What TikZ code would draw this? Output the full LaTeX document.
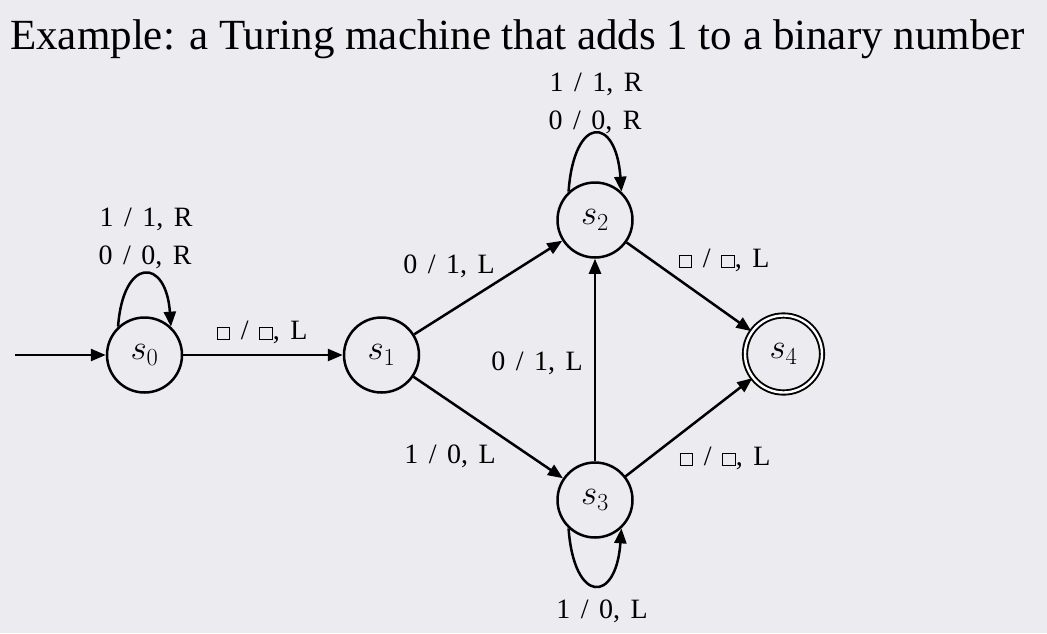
\RequirePackage{fix-cm}
\documentclass[tikz,border=0pt]{standalone}
\usepackage{fontspec}
\setmainfont{Liberation Serif}
\newfontfamily\lblfont{Liberation Serif}[WordSpace=1.5]
\usetikzlibrary{arrows.meta}
\definecolor{bg}{RGB}{236,236,240}
\newcommand{\bx}{{\setlength{\fboxsep}{0pt}\setlength{\fboxrule}{0.9pt}\fbox{\rule{0pt}{11pt}\hspace{12pt}}}}
\begin{document}
\begin{tikzpicture}[x=1pt,y=-1pt,
  state/.style={circle,draw,line width=2.5pt,minimum size=75pt,inner sep=0pt,font=\fontsize{35}{35}\selectfont},
  accept/.style={state,double,double distance=2.4pt,line width=1.9pt,minimum size=77pt},
  lbl/.style={anchor=base,font=\lblfont\fontsize{28}{28}\selectfont,inner sep=0pt},
  edge/.style={line width=2.5pt,-{Triangle[length=15pt,width=12pt]}},
]
\fill[bg] (0,0) rectangle (1047,633);
\useasboundingbox (0,0) rectangle (1047,633);
\node[anchor=base west,inner sep=0pt,font=\fontsize{43}{43}\selectfont] (title) at (10,49) {Example: a Turing machine that adds 1 to a binary number};

\node[state] (s0) at (144.5,355) {$s_0$};
\node[state] (s1) at (381.5,355) {$s_1$};
\node[state] (s2) at (595,220) {$s_2$};
\node[state] (s3) at (595,500) {$s_3$};
\node[accept] (s4) at (783.5,354) {$s_4$};

\coordinate (start) at (15,355);
\draw[edge] (start) -- (s0);
\draw[edge] (s0) -- (s1);
\draw[edge] (s1) -- (s2);
\draw[edge] (s1) -- (s3);
\draw[edge] (s3) -- (s2);
\draw[edge] (s2) -- (s4);
\draw[edge] (s3) -- (s4);
\draw[edge] (s0.133) .. controls +(-86:70) and +(-94:70) .. (s0.47);
\draw[edge] (s2.133) .. controls +(-86:77) and +(-94:77) .. (s2.47);
\draw[edge] (s3.-133) .. controls +(86:76) and +(94:76) .. (s3.-47);

\node[lbl] (l0a) at (146,226) {1 / 1, R};
\node[lbl] (l0b) at (145,264) {0 / 0, R};
\node[lbl] (l01) at (262,339) {\bx{} / \bx, L};
\node[lbl] (l12) at (449,273) {0 / 1, L};
\node[lbl] (l32) at (537,370) {0 / 1, L};
\node[lbl] (l13) at (450,463) {1 / 0, L};
\node[lbl] (l2a) at (596,91) {1 / 1, R};
\node[lbl] (l2b) at (595,129) {0 / 0, R};
\node[lbl] (l24) at (724,267) {\bx{} / \bx, L};
\node[lbl] (l34) at (725,465) {\bx{} / \bx, L};
\node[lbl] (l33) at (602,618) {1 / 0, L};
\end{tikzpicture}
\end{document}
